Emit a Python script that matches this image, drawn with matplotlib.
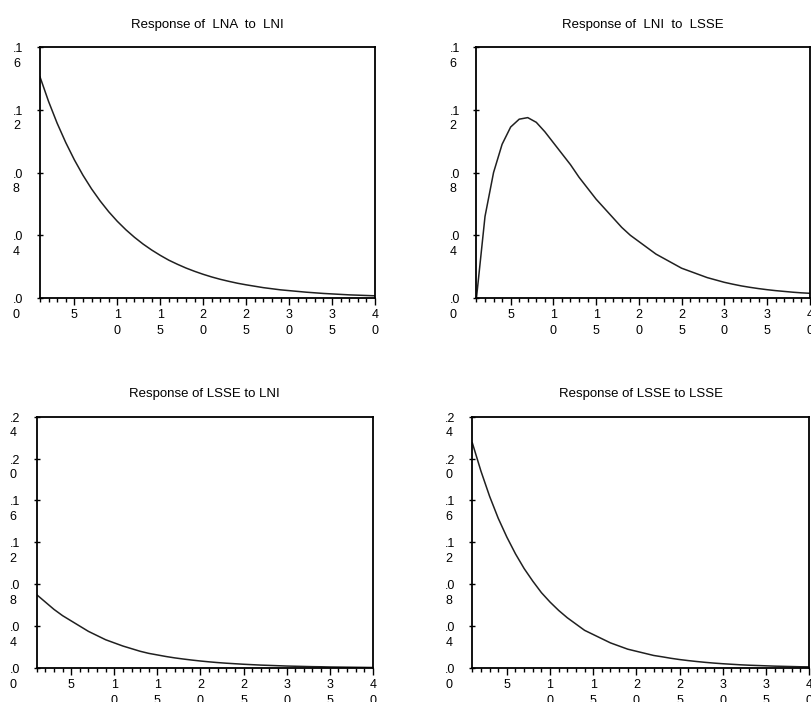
import numpy as np
import matplotlib.pyplot as plt
from matplotlib.ticker import MultipleLocator
from matplotlib.transforms import ScaledTranslation

plt.rcParams['font.family'] = ['Liberation Sans', 'DejaVu Sans']

# impulse response horizon (periods)
periods = np.arange(1, 41)

lna_to_lni = [0.141, 0.1253, 0.1114, 0.0991, 0.0881, 0.0783, 0.0696, 0.0619, 0.0550, 0.0489,
              0.0435, 0.0387, 0.0344, 0.0306, 0.0272, 0.0241, 0.0215, 0.0191, 0.0170, 0.0151,
              0.0134, 0.0119, 0.0106, 0.0094, 0.0084, 0.0075, 0.0066, 0.0059, 0.0052, 0.0047,
              0.0042, 0.0037, 0.0033, 0.0029, 0.0026, 0.0023, 0.0020, 0.0018, 0.0016, 0.0014]

lni_to_lsse = [0.000, 0.052, 0.080, 0.098, 0.109, 0.114, 0.115, 0.112, 0.106, 0.099,
               0.092, 0.085, 0.077, 0.070, 0.063, 0.057, 0.051, 0.045, 0.040, 0.036,
               0.032, 0.028, 0.025, 0.022, 0.019, 0.017, 0.015, 0.013, 0.0115, 0.010,
               0.0088, 0.0077, 0.0068, 0.0060, 0.0053, 0.0047, 0.0042, 0.0037, 0.0033, 0.0030]

lsse_to_lni = [0.070, 0.063, 0.056, 0.050, 0.045, 0.040, 0.035, 0.031, 0.027, 0.024,
               0.021, 0.0185, 0.016, 0.014, 0.0125, 0.011, 0.0097, 0.0086, 0.0076, 0.0067,
               0.0059, 0.0052, 0.0046, 0.0041, 0.0036, 0.0032, 0.0028, 0.0025, 0.0022, 0.0019,
               0.0017, 0.0015, 0.0013, 0.0012, 0.0010, 0.0009, 0.0008, 0.0007, 0.0006, 0.0005]

lsse_to_lsse = [0.215, 0.188, 0.164, 0.143, 0.125, 0.109, 0.095, 0.083, 0.072, 0.063,
                0.055, 0.048, 0.042, 0.036, 0.032, 0.028, 0.024, 0.021, 0.018, 0.016,
                0.014, 0.012, 0.0107, 0.0093, 0.0081, 0.0071, 0.0062, 0.0054, 0.0047, 0.0041,
                0.0036, 0.0031, 0.0027, 0.0024, 0.0021, 0.0018, 0.0016, 0.0014, 0.0012, 0.0011]

x_ticks = [5, 10, 15, 20, 25, 30, 35, 40]
x_labels = ["5", "1\n0", "1\n5", "2\n0", "2\n5", "3\n0", "3\n5", "4\n0"]

top_yticks = [0.0, 0.04, 0.08, 0.12, 0.16]
top_ylabels = [".0\n0", ".0\n4", ".0\n8", ".1\n2", ".1\n6"]
bot_yticks = [0.0, 0.04, 0.08, 0.12, 0.16, 0.20, 0.24]
bot_ylabels = [".0\n0", ".0\n4", ".0\n8", ".1\n2", ".1\n6", ".2\n0", ".2\n4"]

panels = [
    ("Response of  LNA  to  LNI", lna_to_lni, [0.0493, 0.5755, 0.4131, 0.3575], top_yticks, top_ylabels),
    ("Response of  LNI  to  LSSE", lni_to_lsse, [0.5875, 0.5755, 0.4110, 0.3575], top_yticks, top_ylabels),
    ("Response of LSSE to LNI", lsse_to_lni, [0.0453, 0.0484, 0.4143, 0.3580], bot_yticks, bot_ylabels),
    ("Response of LSSE to LSSE", lsse_to_lsse, [0.5824, 0.0484, 0.4152, 0.3580], bot_yticks, bot_ylabels),
]

fig = plt.figure(figsize=(8.11, 7.02), dpi=100)

for title, vals, rect, yt, yl in panels:
    ax = fig.add_axes(rect)
    ax.plot(periods, vals, color='#202020', lw=1.1)
    ax.set_xlim(1, 40)
    ax.set_ylim(yt[0], yt[-1])

    ax.set_xticks(x_ticks, x_labels, fontsize=9, linespacing=1.45)
    ax.xaxis.set_minor_locator(MultipleLocator(1))
    ax.tick_params(axis='x', which='major', direction='out', length=5, width=1, pad=3)
    ax.tick_params(axis='x', which='minor', direction='out', length=3, width=1)

    # y labels are drawn by hand so they can be left aligned and wrapped like the original
    ax.set_yticks(yt)
    ax.set_yticklabels([])
    ax.tick_params(axis='y', direction='inout', length=4, width=1)
    offset = ScaledTranslation(-0.27, 0.04, fig.dpi_scale_trans)
    for v, s in zip(yt, yl):
        ax.text(0, v, s, transform=ax.get_yaxis_transform() + offset,
                ha='left', va='top', fontsize=9, linespacing=1.3)

    for sp in ax.spines.values():
        sp.set_linewidth(1.3)
    ax.set_title(title, fontsize=9.5, pad=14)

fig.savefig("out.png", dpi=100)
